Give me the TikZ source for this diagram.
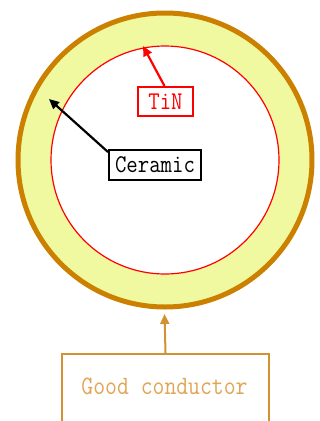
\documentclass[tikz,border=0pt]{standalone}
\usepackage{fontspec}
\setmonofont[FakeStretch=0.87]{Latin Modern Mono}
\usetikzlibrary{arrows.meta}
\definecolor{ring}{RGB}{204,128,0}
\definecolor{ringfill}{RGB}{240,248,160}
\definecolor{condline}{RGB}{210,145,50}
\definecolor{condtext}{RGB}{225,165,85}
\tikzset{
  lbl/.style={draw, line width=2pt, fill=white, font=\ttfamily\fontsize{25.5}{25.5}\selectfont, inner sep=0pt, anchor=north west},
  arr/.style={line width=2.2pt, -{Triangle[length=10pt,width=9pt]}}
}
\begin{document}
\begin{tikzpicture}[x=1pt,y=-1pt]
\useasboundingbox (0,0) rectangle (320,421);
\clip (0,0) rectangle (320,421);
\fill[white] (0,0) rectangle (320,421);
\node[circle, draw=ring, fill=ringfill, line width=5pt, minimum size=294pt, inner sep=0pt] (outer) at (165,160) {};
\node[circle, draw=red, fill=white, line width=1.2pt, minimum size=228pt, inner sep=0pt] (inner) at (165,160) {};
\node[lbl, draw=red, text=red, minimum width=55pt, minimum height=29pt] (tin) at (137,86) {TiN};
\node[lbl, draw=black, text=black, minimum width=92pt, minimum height=30pt] (cer) at (108,149) {Ceramic};
\node[lbl, draw=condline, minimum width=207pt, minimum height=80pt] (cond) at (61,353) {};
\node[font=\ttfamily\fontsize{26.5}{26.5}\selectfont, text=condtext] (condt) at (164.5,386) {Good conductor};
\coordinate (tinTip) at (143,46);
\coordinate (cerTip) at (49,99);
\coordinate (condTip) at (164.5,314);
\draw[arr, red] (tin.north) ++(-1,0) -- (tinTip);
\draw[arr, black] (cer.north west) ++(0,3) -- (cerTip);
\draw[arr, condline, line width=2pt] (cond.north) -- (condTip);
\end{tikzpicture}
\end{document}
